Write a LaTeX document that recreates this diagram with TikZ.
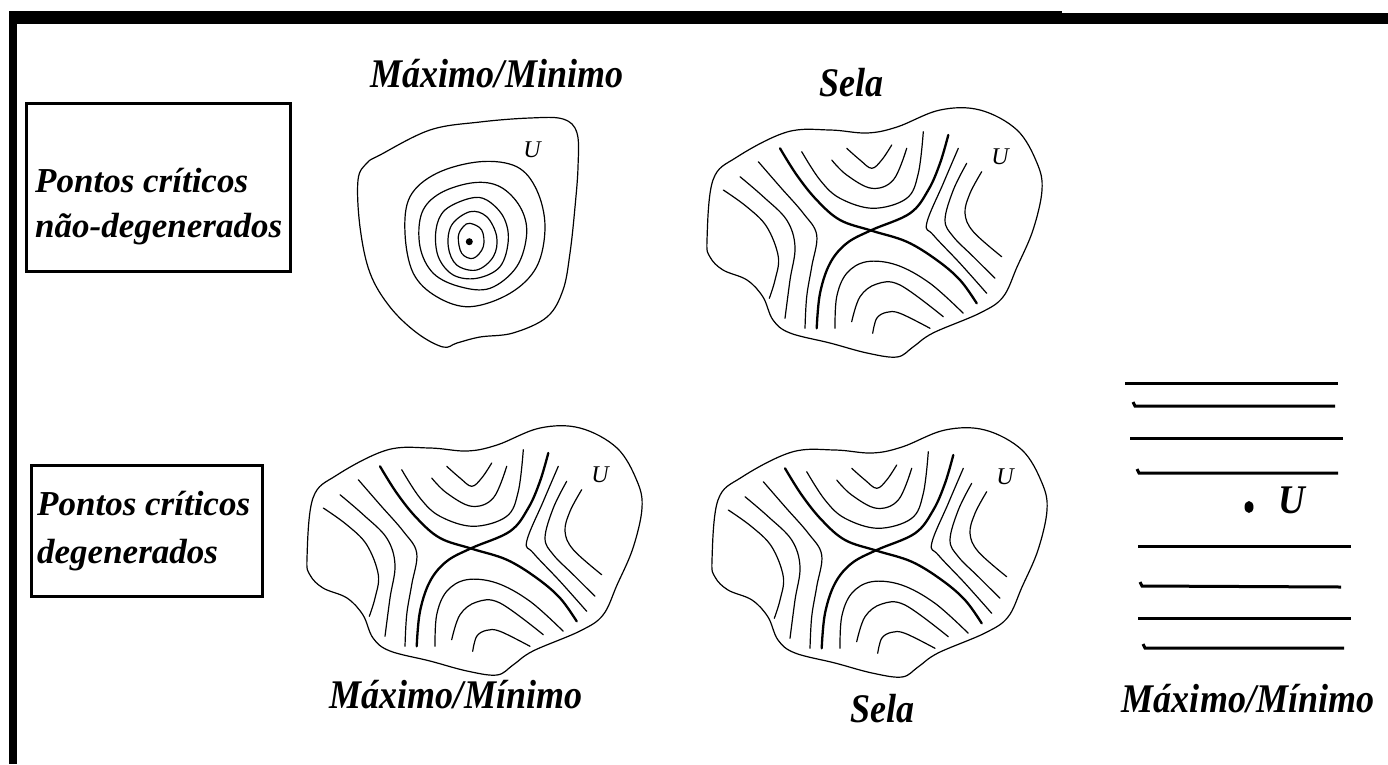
\documentclass[tikz,border=0pt]{standalone}
\usepackage{fontspec}
\setmainfont{Liberation Serif}
\newcommand{\lblfont}{\fontsize{36}{40}\selectfont\bfseries\itshape}
\newcommand{\boxfont}{\fontsize{35}{40}\selectfont\bfseries\itshape}
\newcommand{\ufont}{\fontsize{24}{26}\selectfont\itshape}
\newcommand{\drawsaddleset}[1]{%
  \draw[outline] plot[smooth cycle, tension=0.6] coordinates {(707,240)(713,180)(737,157)(787,132)(830,130)(867,133)(897,127)(940,110)(980,110)(1017,130)(1037,163)(1042,190)(1033,230)(1017,267)(1003,297)(980,313)(933,333)(913,347)(897,357)(867,353)(830,343)(790,333)(773,320)(763,297)(747,280)(723,270)(710,257)};
  % separatrices
  \draw[thick curve] plot[smooth, tension=0.6] coordinates {(780,148.3)(796.7,175)(816.7,200)(840,220)(871.7,230.7)(906.7,241.7)(936.7,260)(960,280)(976.7,303.3)};
  \draw[thick curve] plot[smooth, tension=0.6] coordinates {(948.3,135)(940,163.3)(928.3,190)(910,213.3)(871.7,230)(846.7,243.3)(830,263.3)(820,293.3)(816.7,328.3)};
  % top group
  \draw[thin curve] plot[smooth, tension=0.6] coordinates {(846.7,148.3)(860,160)(871.7,168.3)(881.7,160)(891.7,145)};
  \draw[thin curve] plot[smooth, tension=0.6] coordinates {(831.7,160)(846.7,175)(871.7,188.3)(893.3,180)(906.7,148.3)};
  \draw[thin curve] plot[smooth, tension=0.6] coordinates {(801.7,151.7)(820,180)(840,198.3)(873.3,208.3)(906.7,198.3)(918.3,173.3)(923.3,131.7)};
  % left group
  \draw[thin curve] plot[smooth, tension=0.6] coordinates {(758.3,161.7)(780,186.7)(803.3,213.3)(816.7,235)(811.7,266.7)(806.7,296.7)(805,328.3)};
  \draw[thin curve] plot[smooth, tension=0.6] coordinates {(740,176.7)(763.3,196.7)(786.7,220)(795,246.7)(790,280)(785,318.3)};
  \draw[thin curve] plot[smooth, tension=0.6] coordinates {(723.3,190)(746.7,206.7)(766.7,226.7)(778.3,256.7)(775,280)(769.3,298.3)};
  % right group
  \draw[thin curve] plot[smooth, tension=0.6] coordinates {(958.3,148.3)(943.3,183.3)(926.7,223.3)(933.3,235)(960,263.3)(986.7,293.3)};
  \draw[thin curve] plot[smooth, tension=0.6] coordinates {(966.7,163.3)(953.3,190)(945,220)(953.3,236.7)(973.3,256.7)(995,278.3)};
  \draw[thin curve] plot[smooth, tension=0.6] coordinates {(981.7,171.7)(970,193.3)(965,213.3)(973.3,231.7)(1001.7,256.7)};
  % bottom group
  \draw[thin curve] plot[smooth, tension=0.6] coordinates {(835,328.3)(836.7,296.7)(846.7,273.3)(866.7,261.7)(896.7,265)(930,283.3)(963.3,313.3)};
  \draw[thin curve] plot[smooth, tension=0.6] coordinates {(851.7,321.7)(860,296.7)(876.7,284)(900,285)(943.3,316.7)};
  \draw[thin curve] plot[smooth, tension=0.6] coordinates {(872.7,333.3)(876.7,318.3)(886.7,312.3)(900,313.3)(930,328.3)};
  \node[ulabel] (#1) at (1000,157) {U};
}
\begin{document}
\begin{tikzpicture}[x=1pt,y=-1pt,
  outline/.style={line width=1.2pt, line join=round},
  thin curve/.style={line width=1.2pt, line cap=round, line join=round},
  thick curve/.style={line width=2.3pt, line cap=round, line join=round},
  hline/.style={line width=3pt, line cap=butt},
  lbl/.style={font=\lblfont, inner sep=0pt, anchor=base, yscale=1.13},
  boxtxt/.style={font=\boxfont, inner sep=0pt, anchor=base west},
  ulabel/.style={font=\ufont, inner sep=0pt},
  framebox/.style={draw, line width=3pt, inner sep=0pt}]
\useasboundingbox (0,0) rectangle (1388,764);
\fill[white] (0,0) rectangle (1388,764);
% frame bars
\fill[black] (9,11) rectangle (1062,24);
\fill[black] (1062,13) rectangle (1388,24);
\fill[black] (9,11) rectangle (17,764);

% row labels boxes
\node[framebox, minimum width=264pt, minimum height=168pt] (box1) at (158,187) {};
\node[boxtxt] (b1l1) at (35,192) {Pontos críticos};
\node[boxtxt] (b1l2) at (35,237) {não-degenerados};
\node[framebox, minimum width=231pt, minimum height=131pt] (box2) at (146.5,530.5) {};
\node[boxtxt] (b2l1) at (37,515) {Pontos críticos};
\node[boxtxt] (b2l2) at (37,563) {degenerados};

% column labels
\node[lbl] (t1) at (497,87) {Máximo/Minimo};
\node[lbl] (t2) at (851,96) {Sela};
\node[lbl] (t3) at (456,708) {Máximo/Mínimo};
\node[lbl] (t4) at (882,722) {Sela};
\node[lbl] (t5) at (1248,712) {Máximo/Mínimo};

% blob 1: nondegenerate extremum
\draw[outline] plot[smooth cycle, tension=0.6] coordinates {(380,155)(430,130)(480,122)(530,118)(563,119)(577,133)(578,167)(575,207)(570,253)(563,290)(547,317)(513,333)(480,337)(457,343)(443,347)(417,333)(390,307)(370,273)(360,227)(358,180)(367,163)};
\draw[outline] plot[smooth cycle, tension=0.6] coordinates {(480,161.7)(516.7,166.7)(536.7,190)(545,226.7)(536.7,266.7)(510,293.3)(470,306.7)(436.7,296.7)(413.3,273.3)(405,233.3)(410,196.7)(436.7,173.3)};
\draw[outline] plot[smooth cycle, tension=0.6] coordinates {(473.3,182.7)(500,186.7)(520,206.7)(526.7,233.3)(516.7,266.7)(490,288.3)(460,286.7)(433.3,273.3)(420,246.7)(421.7,213.3)(440,193.3)};
\draw[outline] plot[smooth cycle, tension=0.6] coordinates {(470,198.3)(486.7,200)(503.3,216.7)(508.3,240)(500,266.7)(476.7,278.3)(453.3,275)(438.3,256.7)(436,230)(445,210)};
\draw[outline] plot[smooth cycle, tension=0.6] coordinates {(470,211.7)(486.7,216.7)(496.7,236.7)(493.3,256.7)(476.7,270)(456.7,265)(448.3,246.7)(451.7,225)};
\draw[outline] plot[smooth cycle, tension=0.6] coordinates {(470,223.3)(481.7,230)(483.3,246.7)(473.3,258.3)(461.7,253.3)(458.3,236.7)(463.3,226.7)};
\fill (469.3,241.7) circle[radius=3.5pt];
\node[ulabel] (u1) at (532,150) {U};

% saddles
\drawsaddleset{u2}
\begin{scope}[shift={(-400,318)}]
\drawsaddleset{u3}
\end{scope}
\begin{scope}[shift={(5,320)}]
\drawsaddleset{u4}
\end{scope}

% degenerate: parallel lines
\draw[hline] (1125,383) -- (1338,383);
\draw[hline] (1133,402) -- (1135,406) -- (1335,406);
\draw[hline] (1130,438) -- (1343,438);
\draw[hline] (1137,469) -- (1139,473) -- (1338,473);
\draw[hline] (1138,546) -- (1351,546);
\draw[hline] (1140,582) -- (1142,586) -- (1341,587);
\draw[hline] (1138,618) -- (1351,618);
\draw[hline] (1143,644) -- (1145,648) -- (1344,648);
\fill (1249,507) ellipse[x radius=4.5pt, y radius=6pt];
\node[font=\fontsize{37}{40}\selectfont\bfseries\itshape, inner sep=0pt, yscale=1.1] (u5) at (1292,500) {U};
\end{tikzpicture}
\end{document}
